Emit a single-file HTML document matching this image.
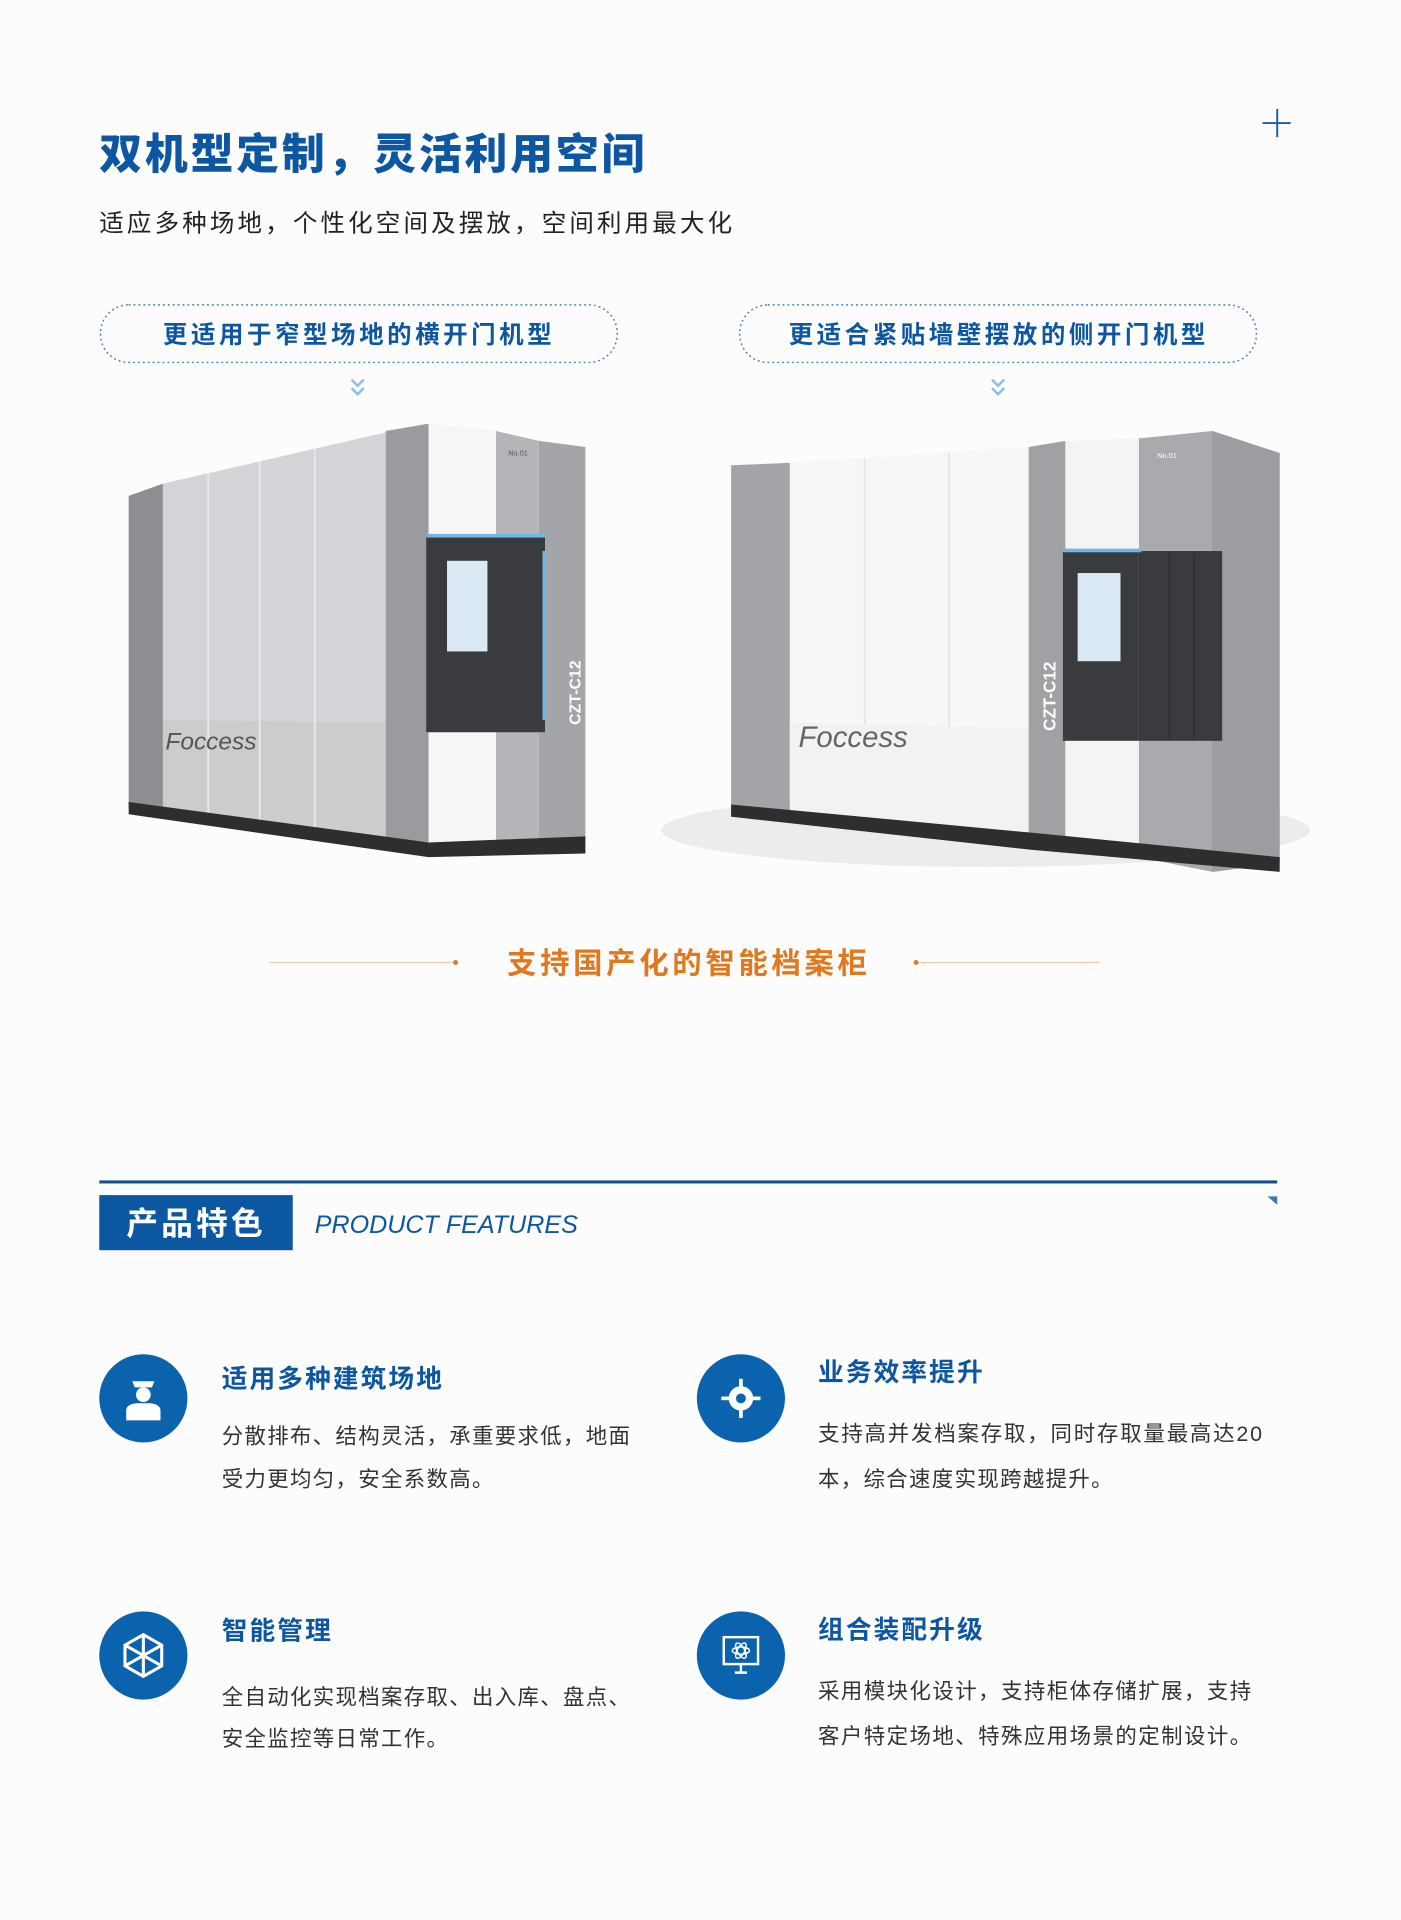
<!DOCTYPE html>
<html><head><meta charset="utf-8"><style>
html,body{margin:0;padding:0;background:#fcfcfc;}
svg{display:block}
text{font-family:"Liberation Sans","Noto Sans CJK SC",sans-serif;}
</style></head><body>
<svg width="1401" height="1920" viewBox="0 0 1144 1568" xmlns="http://www.w3.org/2000/svg">
<rect width="1144" height="1568" fill="#fcfcfc"/>
<!-- header -->
<text x="81" y="138" font-size="35" font-weight="900" fill="#0d57a2" letter-spacing="2.3">双机型定制，灵活利用空间</text>
<path d="M1043 89V112M1031 100.5H1054" stroke="#1a5ea6" stroke-width="1.6"/>
<text x="81" y="189" font-size="20" fill="#222" letter-spacing="2.6">适应多种场地，个性化空间及摆放，空间利用最大化</text>
<rect x="82" y="249" width="422" height="47" rx="23" fill="none" stroke="#3f7fb8" stroke-width="1.2" stroke-dasharray="1.5 2.5"/>
<rect x="604" y="249" width="422" height="47" rx="23" fill="none" stroke="#3f7fb8" stroke-width="1.2" stroke-dasharray="1.5 2.5"/>
<text x="133" y="280" font-size="20" font-weight="700" fill="#0d57a2" letter-spacing="2.9">更适用于窄型场地的横开门机型</text>
<text x="644" y="280" font-size="20" font-weight="700" fill="#0d57a2" letter-spacing="2.9">更适合紧贴墙壁摆放的侧开门机型</text>
<path d="M287 310l5 5 5-5M287 317l5 5 5-5" fill="none" stroke="#8fbde0" stroke-width="2"/>
<path d="M810 310l5 5 5-5M810 317l5 5 5-5" fill="none" stroke="#8fbde0" stroke-width="2"/>

<!-- left machine -->
<polygon points="105,405 133,395 133,662 105,660" fill="#8e8f92"/>
<polygon points="133,395 320,352 320,690 133,662" fill="#d3d4d7"/>
<polygon points="133,588 320,590 320,690 133,662" fill="#cbccce"/>
<path d="M170 386V667M212 377V673M257 366V680" stroke="#e9e9eb" stroke-width="1.5"/>
<polygon points="315,352 350,346 350,692 315,690" fill="#9a9b9e"/>
<polygon points="350,346 405,352 405,695 350,692" fill="#f6f6f7"/>
<polygon points="405,352 440,360 440,690 405,695" fill="#b4b5b8"/>
<polygon points="440,360 478,365 478,685 440,690" fill="#a4a5a8"/>
<rect x="348" y="438" width="97" height="160" fill="#3a3b3e"/>
<rect x="348" y="436" width="97" height="3" fill="#6fb7e6"/>
<rect x="365" y="458" width="33" height="74" fill="#dbe9f5"/>
<rect x="443" y="450" width="3" height="138" fill="#6fb7e6"/>
<polygon points="105,655 350,688 478,683 478,697 350,700 105,665" fill="#2d2e30"/>
<text x="135" y="612" font-size="20" font-style="italic" fill="#555">Foccess</text>
<text x="0" y="0" font-size="13" font-weight="700" fill="#fff" transform="translate(474,592) rotate(-90)">CZT-C12</text>
<text x="415" y="372" font-size="6" fill="#555">No.01</text>

<!-- right machine -->
<ellipse cx="805" cy="678" rx="265" ry="30" fill="#ececec"/>
<polygon points="597,380 645,378 645,662 597,666" fill="#a3a4a7"/>
<polygon points="645,378 842,365 842,686 645,662" fill="#f7f7f8"/>
<path d="M706 374V668M775 370V676" stroke="#e6e6e8" stroke-width="1.5"/>
<polygon points="645,590 842,595 842,686 645,662" fill="#f2f2f3"/>
<polygon points="840,365 870,360 870,693 840,688" fill="#a0a1a4"/>
<polygon points="930,358 990,352 1045,370 1045,705 990,712 930,700" fill="#a9aaad"/>
<polygon points="990,352 1045,370 1045,705 990,712" fill="#9c9da0"/>
<rect x="868" y="450" width="130" height="155" fill="#3a3b3e"/>
<path d="M930 452V604M955 452V604M975 452V604" stroke="#2a2b2d" stroke-width="1"/>
<polygon points="870,360 930,358 930,700 870,693" fill="#f4f4f5"/>
<rect x="868" y="450" width="62" height="155" fill="#3a3b3e"/>
<rect x="868" y="448" width="64" height="3" fill="#6fb7e6"/>
<rect x="880" y="468" width="35" height="72" fill="#dbe9f5"/>
<polygon points="597,657 842,680 1045,700 1045,712 842,694 597,667" fill="#2d2e30"/>
<text x="652" y="610" font-size="24" font-style="italic" fill="#666">Foccess</text>
<text x="0" y="0" font-size="14" font-weight="700" fill="#fff" transform="translate(862,597) rotate(-90)">CZT-C12</text>
<text x="945" y="374" font-size="6" fill="#fff">No.01</text>

<!-- orange caption -->
<line x1="220" y1="786" x2="372" y2="786" stroke="#f0c8a6" stroke-width="1"/>
<circle cx="372" cy="786" r="2" fill="#e0781e"/>
<line x1="748" y1="786" x2="898" y2="786" stroke="#f0c8a6" stroke-width="1"/>
<circle cx="748" cy="786" r="2" fill="#e0781e"/>
<text x="414" y="795" font-size="24" font-weight="700" fill="#e0781e" letter-spacing="3">支持国产化的智能档案柜</text>

<!-- section header -->
<rect x="81" y="964" width="962" height="2.5" fill="#164f8f"/>
<polygon points="1035,977 1043,977 1043,984" fill="#3e78b6"/>
<rect x="81" y="976" width="158" height="45" fill="#0b57a2"/>
<text x="103" y="1008" font-size="26" font-weight="700" fill="#fff" letter-spacing="2.5">产品特色</text>
<text x="257" y="1007" font-size="20.5" font-style="italic" fill="#0d57a2">PRODUCT FEATURES</text>

<!-- features -->
<g fill="#0b62ad">
<circle cx="117" cy="1142" r="36"/><circle cx="605" cy="1142" r="36"/>
<circle cx="117" cy="1352" r="36"/><circle cx="605" cy="1352" r="36"/>
</g>
<g fill="#fff">
<path d="M108 1128h18l-2 5h-14z"/><circle cx="117" cy="1139" r="6"/>
<path d="M103 1160v-8q0-5 8-6h12q8 1 8 6v8z"/>
<circle cx="605" cy="1142" r="10"/>
<rect x="603.5" y="1126" width="3" height="32"/><rect x="589" y="1140.5" width="32" height="3"/>
</g>
<circle cx="605" cy="1142" r="4" fill="#0b62ad"/>
<g stroke="#fff" stroke-width="2.5" fill="none">
<polygon points="117,1335 132,1343.5 132,1360.5 117,1369 102,1360.5 102,1343.5"/>
<path d="M117 1335V1369M102 1343.5L132 1360.5M132 1343.5L102 1360.5"/>
<rect x="591" y="1337" width="28" height="22" stroke-width="2"/>
<path d="M600 1366h10M605 1359v7" stroke-width="2"/>
<ellipse cx="605" cy="1348" rx="7" ry="3" stroke-width="1.2"/>
<ellipse cx="605" cy="1348" rx="7" ry="3" stroke-width="1.2" transform="rotate(60 605 1348)"/>
<ellipse cx="605" cy="1348" rx="7" ry="3" stroke-width="1.2" transform="rotate(-60 605 1348)"/>
</g>

<g font-size="21" font-weight="700" fill="#0d57a2" letter-spacing="1.7">
<text x="181" y="1133">适用多种建筑场地</text>
<text x="668" y="1128">业务效率提升</text>
<text x="181" y="1339">智能管理</text>
<text x="668" y="1338">组合装配升级</text>
</g>
<g font-size="17.5" fill="#333" letter-spacing="1.1">
<text x="181" y="1179">分散排布、结构灵活，承重要求低，地面</text>
<text x="181" y="1214">受力更均匀，安全系数高。</text>
<text x="668" y="1177" letter-spacing="1.5">支持高并发档案存取，同时存取量最高达20</text>
<text x="668" y="1214">本，综合速度实现跨越提升。</text>
<text x="181" y="1392">全自动化实现档案存取、出入库、盘点、</text>
<text x="181" y="1426">安全监控等日常工作。</text>
<text x="668" y="1387" letter-spacing="1.2">采用模块化设计，支持柜体存储扩展，支持</text>
<text x="668" y="1424" letter-spacing="1.2">客户特定场地、特殊应用场景的定制设计。</text>
</g>
</svg>
</body></html>
